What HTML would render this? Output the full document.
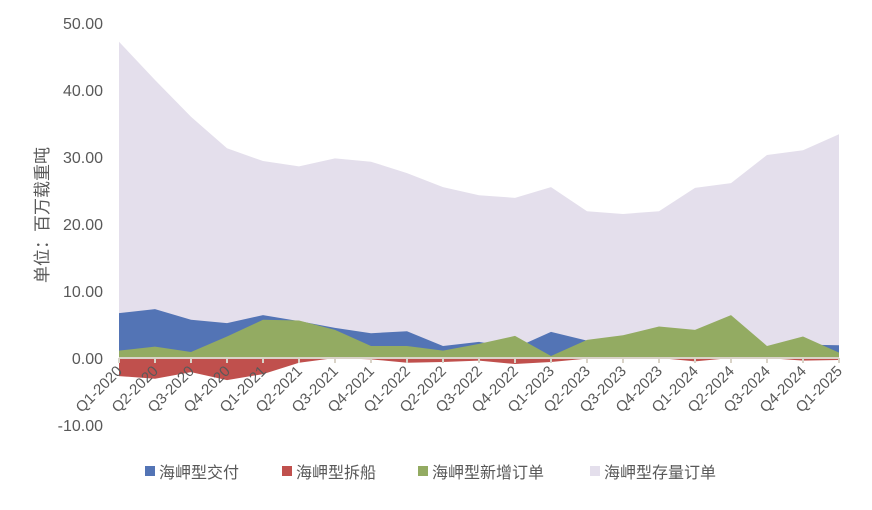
<!DOCTYPE html>
<html><head><meta charset="utf-8"><style>
body{margin:0;background:#fff;font-family:"Liberation Sans","Noto Sans CJK SC",sans-serif;}
</style></head><body>
<svg width="872" height="505" id="c" xmlns="http://www.w3.org/2000/svg"></svg>
<script>
const categories=["Q1-2020","Q2-2020","Q3-2020","Q4-2020","Q1-2021","Q2-2021","Q3-2021","Q4-2021","Q1-2022","Q2-2022","Q3-2022","Q4-2022","Q1-2023","Q2-2023","Q3-2023","Q4-2023","Q1-2024","Q2-2024","Q3-2024","Q4-2024","Q1-2025"];
const stockOrders=[47.2,41.5,36,31.3,29.4,28.6,29.8,29.3,27.6,25.5,24.3,23.9,25.5,21.9,21.5,21.9,25.4,26.1,30.3,31.0,33.4];
const deliveries=[6.7,7.3,5.7,5.2,6.4,5.5,4.5,3.7,4.0,1.8,2.4,1.5,3.9,2.6,2.5,2.5,3.0,3.0,1.5,2.0,1.9];
const demolitions=[-2.7,-3.1,-2.1,-3.3,-2.4,-0.7,0,-0.2,-0.7,-0.6,-0.4,-0.9,-0.6,-0.1,-0.1,0,-0.5,0,0,-0.4,-0.3];
const newOrders=[1.1,1.7,0.9,3.2,5.7,5.6,4.2,1.8,1.8,1.1,2.1,3.3,0.3,2.7,3.4,4.7,4.2,6.4,1.8,3.2,0.8];
const yTicks=[-10,0,10,20,30,40,50];
const svg=document.getElementById('c');const NS="http://www.w3.org/2000/svg";
const x0=119,x1=839,yTop=23,yBot=425;
const xs=i=>x0+(x1-x0)*i/(categories.length-1);
const ys=v=>yTop+(50-v)*(yBot-yTop)/60;
function mk(t,a){const e=document.createElementNS(NS,t);for(const k in a)e.setAttribute(k,a[k]);svg.appendChild(e);return e;}
function area(vals,color,name){let d="M"+xs(0)+","+ys(0);vals.forEach((v,i)=>d+=" L"+xs(i)+","+ys(v));d+=" L"+xs(vals.length-1)+","+ys(0)+"Z";
const p=mk('path',{d:d,fill:color});

}
area(stockOrders,"#e4dfec","area-stock-orders");
area(deliveries,"#5374b5","area-deliveries");
area(demolitions,"#c0504d","area-demolitions");
area(newOrders,"#93ab62","area-new-orders");
const ax=mk('line',{x1:x0,x2:x1,y1:ys(0),y2:ys(0),stroke:"#d9d3c7","stroke-width":2});


categories.forEach((c,i)=>{
const t=mk('line',{x1:xs(i),x2:xs(i),y1:ys(0),y2:ys(0)+5,stroke:"#d9d3c7","stroke-width":2});


const tx=mk('text',{x:xs(i)+4,y:ys(0)+14,"text-anchor":"end","font-size":"15",fill:"#595959",transform:`rotate(-45 ${xs(i)+4} ${ys(0)+14})`});
tx.textContent=c;


});
yTicks.forEach(v=>{
const t=mk('text',{x:103,y:ys(v)+6,"text-anchor":"end","font-size":"16",fill:"#595959"});
t.textContent=v.toFixed(2);


});
const yt=mk('text',{x:48,y:215,"text-anchor":"middle","font-size":"17",fill:"#595959",transform:"rotate(-90 48 215)"});
yt.textContent="单位：百万载重吨";


const leg=[["#5374b5","海岬型交付",145],["#c0504d","海岬型拆船",282],["#93ab62","海岬型新增订单",418],["#e4dfec","海岬型存量订单",590]];
leg.forEach(l=>{
const r=mk('rect',{x:l[2],y:466,width:10,height:10,fill:l[0]});


const t=mk('text',{x:l[2]+14,y:478,"font-size":"16",fill:"#595959"});
t.textContent=l[1];


});
</script>
</body></html>
